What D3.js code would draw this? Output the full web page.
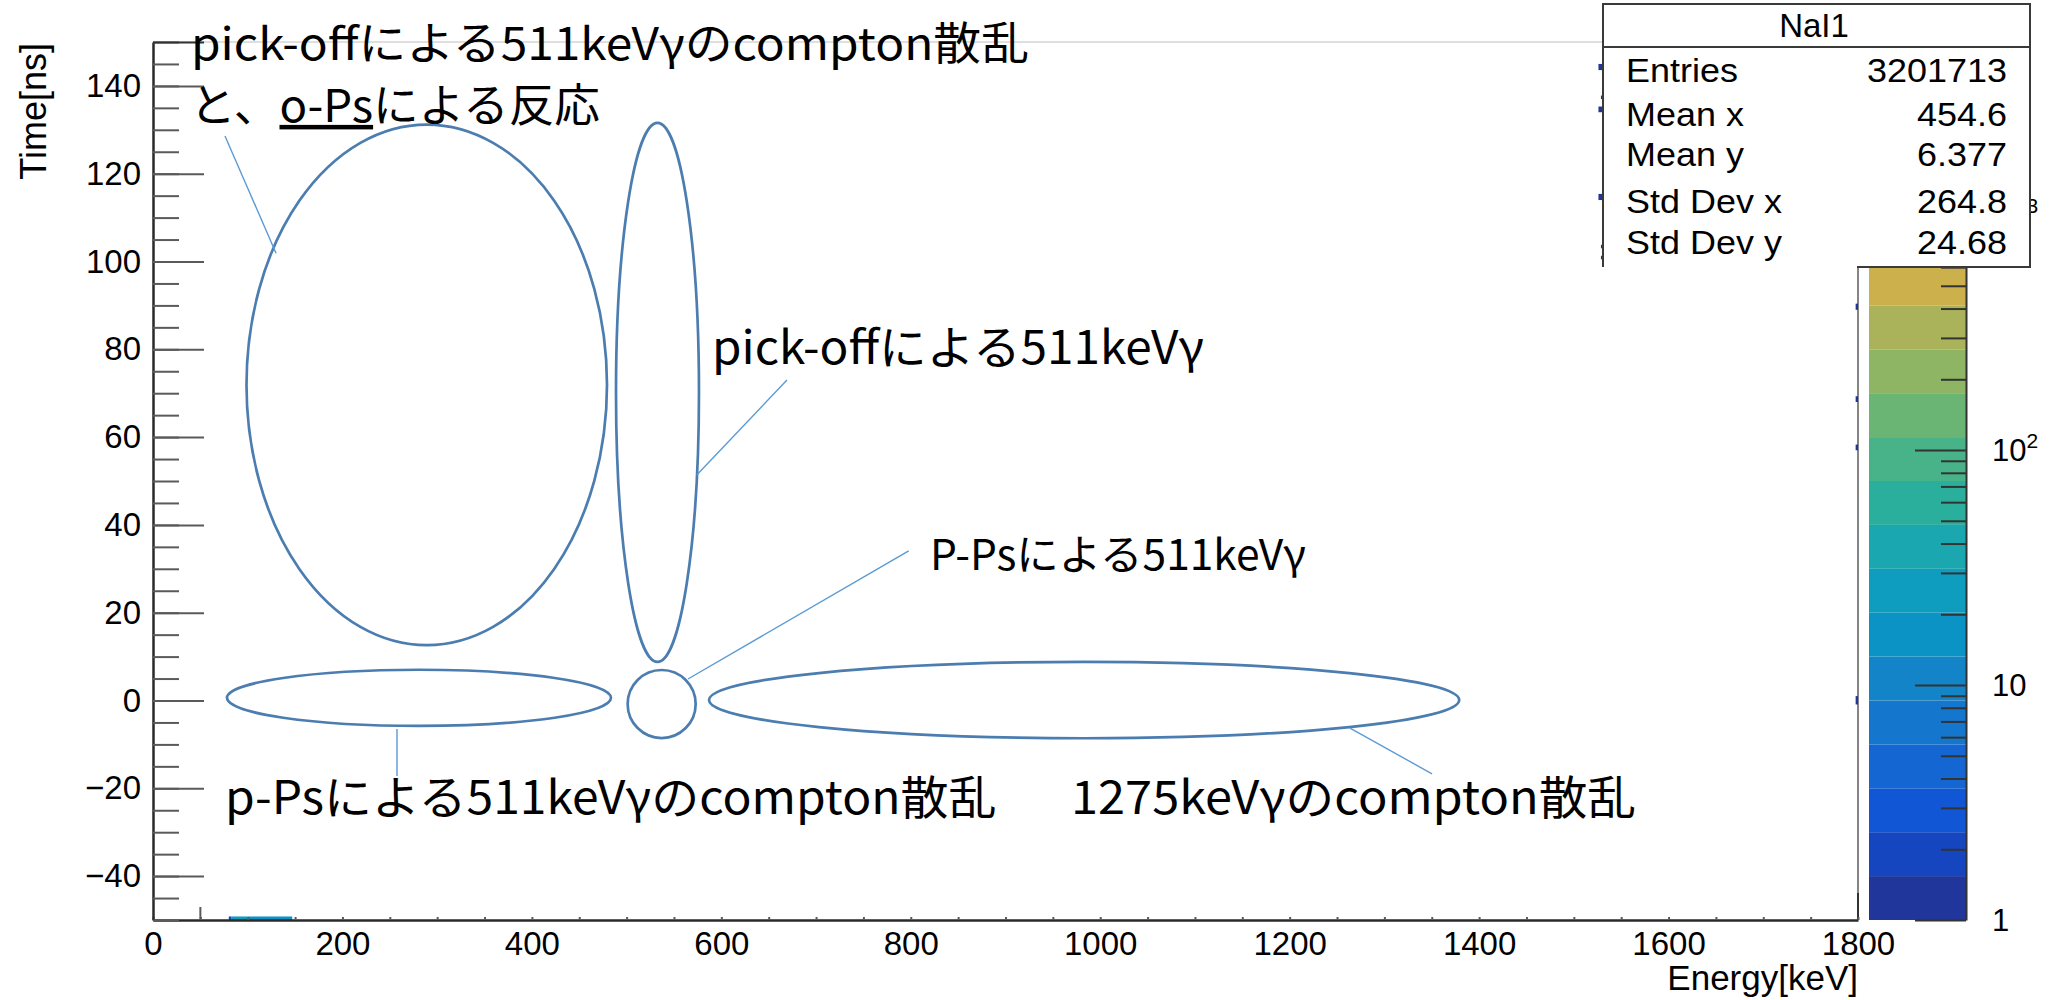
<!DOCTYPE html>
<html>
<head>
<meta charset="utf-8">
<script src="https://cdn.jsdelivr.net/npm/d3@7"></script>
<style>
  html, body { margin: 0; padding: 0; background: #fff; }
  svg { display: block; }
</style>
</head>
<body>
<svg id="chart" width="2056" height="1000"></svg>
<script>
// ---------------- axis ticks ----------------
const xMajorTicks = [0, 200, 400, 600, 800, 1000, 1200, 1400, 1600, 1800];
const xMinorTicks = d3.range(0, 1801, 50);
const xLongTicks = [50];
const yMajorTicks = [-40, -20, 0, 20, 40, 60, 80, 100, 120, 140];
const yMinorTicks = d3.range(-50, 151, 5);
const yEdgeTicks = [150];

// ---------------- colour axis (counts per bin, log) ----------------
const zMax = 5450;
const zMajorTicks = [1, 10, 100, 1000];
const zTickLabels = ["1", "10", "10^2", "10^3"];
const paletteColours = [
  "#21369a", "#1546bf", "#1157d5", "#1466d2", "#1477cd",
  "#1484c8", "#0b93c5", "#0e9dbf", "#1ba7b0", "#2aaf9d",
  "#48b288", "#6ab474", "#8db564", "#abb35a", "#cbb04c",
  "#dcb243", "#ebb93a", "#f5c631", "#f8d829", "#f9ec1f"
];

// ---------------- filled bins: [E lo, E hi, t lo, t hi, counts] ----------------
const bins = [
  [80, 83, -50, -49.2, 2],
  [83, 100, -50, -49.2, 25],
  [100, 147, -50, -49.2, 16],
  [1797.5, 1800, 89.0, 90.4, 1],
  [1797.5, 1800, 68.0, 69.3, 1],
  [1797.5, 1800, 57.0, 58.3, 1],
  [1797.5, 1800, -0.9, 1.0, 1],
  [1526, 1530, 143.6, 145.0, 1],
  [1526, 1530, 134.0, 135.3, 1],
  [1526, 1530, 114.0, 115.4, 1],
  [1528.6, 1530, 137.0, 137.8, 1],
  [1528.6, 1530, 103.0, 103.8, 1],
  [1528.6, 1530, 100.5, 101.3, 1]
];

// ---------------- marked regions (ellipses, keV / ns) ----------------
const regionCentreKeV  = [289.0, 532.6, 537.0, 280.8, 983.0];
const regionCentreNs   = [71.9, 70.2, -0.8, 0.6, 0.1];
const regionHalfKeV    = [190.3, 43.8, 35.9, 202.7, 396.0];
const regionHalfNs     = [59.3, 61.4, 7.75, 6.4, 8.7];

// leader lines: [E1, t1, E2, t2]
const leaders = [
  [76.0, 128.6, 129.9, 101.9],
  [669.3, 73.0, 574.3, 51.4],
  [797.8, 34.1, 564.8, 4.9],
  [257.6, -6.5, 257.6, -17.2],
  [1263.7, -6.3, 1350.3, -16.7]
];

// annotation labels: [text, E start, E end, t baseline]
const notes = [
  ["pick-offによる511keVγのcompton散乱", 40.1, 924.8, 145.8],
  ["と、|o-Ps|による反応", 39.1, 471.9, 131.8],
  ["pick-offによる511keVγ", 590.2, 1109.6, 76.6],
  ["P-Psによる511keVγ", 820.3, 1217.3, 29.7],
  ["p-Psによる511keVγのcompton散乱", 76.0, 890.5, -25.9],
  ["1275keVγのcompton散乱", 969.2, 1565.7, -25.9]
];

// statistics box
const statsTitle = "NaI1";
const statsNames = ["Entries", "Mean x", "Mean y", "Std Dev x", "Std Dev y"];
const statsValues = ["3201713", "454.6", "6.377", "264.8", "24.68"];

const xTitle = "Energy[keV]";
const yTitle = "Time[ns]";

// ================= drawing =================
const svg = d3.select("#chart");
const frame = { left: 153, right: 1858, top: 42, bottom: 920 };
const ROOTFONT = "'Liberation Sans', Arial, Helvetica, sans-serif";
const JPFONT = "'Noto Sans CJK JP', 'Noto Sans', sans-serif";

const x = d3.scaleLinear().domain([0, 1800]).range([frame.left, frame.right]);
const y = d3.scaleLinear().domain([-50, 150]).range([frame.bottom, frame.top]);
const z = d3.scaleLog().domain([1, zMax]).range([frame.bottom, frame.top]);
const colour = d3.scaleQuantize().domain([0, Math.log10(zMax)]).range(paletteColours);

svg.append("rect").attr("width", 2056).attr("height", 1000).attr("fill", "#fff");

// frame (top and right edges)
svg.append("line")
  .attr("x1", frame.left).attr("x2", frame.right)
  .attr("y1", frame.top).attr("y2", frame.top)
  .attr("stroke", "#d4d4d4").attr("stroke-width", 1.5);
svg.append("line")
  .attr("x1", frame.right).attr("x2", frame.right)
  .attr("y1", frame.top).attr("y2", frame.bottom)
  .attr("stroke", "#858585").attr("stroke-width", 2);
svg.append("line")
  .attr("x1", frame.right).attr("x2", frame.right)
  .attr("y1", frame.bottom - 27).attr("y2", frame.bottom)
  .attr("stroke", "#333").attr("stroke-width", 2);

// histogram bins
svg.append("g").selectAll("rect").data(bins).join("rect")
  .attr("x", d => x(d[0]))
  .attr("width", d => x(d[1]) - x(d[0]))
  .attr("y", d => y(d[3]))
  .attr("height", d => y(d[2]) - y(d[3]))
  .attr("fill", d => colour(Math.log10(d[4])));

// axes
function styleAxis(g, size) {
  g.attr("font-family", ROOTFONT).attr("font-size", size);
  g.selectAll(".tick line").attr("stroke", "#5a5a5a").attr("stroke-width", 2);
  g.selectAll(".tick text").attr("fill", "#000");
  g.select(".domain").attr("stroke", "#2a2a2a").attr("stroke-width", 2.5);
}

const gx = svg.append("g").attr("transform", `translate(0,${frame.bottom})`);
gx.append("g").call(d3.axisBottom(x).tickValues(xMinorTicks).tickSize(-3).tickSizeOuter(0).tickFormat(""))
  .call(g => styleAxis(g, 33));
gx.append("g").call(d3.axisBottom(x).tickValues(xMajorTicks).tickSize(0).tickPadding(12).tickSizeOuter(0).tickFormat(d3.format("d")))
  .call(g => { styleAxis(g, 33); g.select(".domain").remove(); });
gx.append("g").selectAll("line").data(xLongTicks).join("line")
  .attr("x1", d => x(d)).attr("x2", d => x(d))
  .attr("y1", 0).attr("y2", -13)
  .attr("stroke", "#5a5a5a").attr("stroke-width", 2);

const gy = svg.append("g").attr("transform", `translate(${frame.left},0)`);
gy.append("g").call(d3.axisLeft(y).tickValues(yMinorTicks).tickSize(-26).tickSizeOuter(0).tickFormat(""))
  .call(g => styleAxis(g, 33));
gy.append("g").call(d3.axisLeft(y).tickValues(yMajorTicks).tickSize(-51).tickPadding(12).tickSizeOuter(0))
  .call(g => { styleAxis(g, 33); g.select(".domain").remove(); });
gy.append("g").call(d3.axisLeft(y).tickValues(yEdgeTicks).tickSize(-51).tickSizeOuter(0).tickFormat(""))
  .call(g => { styleAxis(g, 33); g.select(".domain").remove(); g.selectAll(".tick line").attr("stroke", "#333"); });

// axis titles
svg.append("text")
  .attr("transform", `translate(46,${frame.top + 1}) rotate(-90)`)
  .attr("text-anchor", "end")
  .attr("font-family", ROOTFONT).attr("font-size", 36)
  .text(yTitle);
svg.append("text")
  .attr("x", frame.right).attr("y", 990)
  .attr("text-anchor", "end")
  .attr("font-family", ROOTFONT).attr("font-size", 35)
  .text(xTitle);

// marked regions
svg.append("g").selectAll("ellipse").data(regionCentreKeV).join("ellipse")
  .attr("cx", (d, i) => x(d))
  .attr("cy", (d, i) => y(regionCentreNs[i]))
  .attr("rx", (d, i) => x(d + regionHalfKeV[i]) - x(d))
  .attr("ry", (d, i) => y(regionCentreNs[i] - regionHalfNs[i]) - y(regionCentreNs[i]))
  .attr("fill", "none")
  .attr("stroke", "#4b7db0")
  .attr("stroke-width", 2.7);

svg.append("g").selectAll("line").data(leaders).join("line")
  .attr("x1", d => x(d[0])).attr("y1", d => y(d[1]))
  .attr("x2", d => x(d[2])).attr("y2", d => y(d[3]))
  .attr("stroke", "#5b9bd5").attr("stroke-width", 1.4);

// annotation labels
const noteSizes = [45, 45, 46, 42, 46, 46];
const noteG = svg.append("g").attr("font-family", JPFONT).attr("fill", "#000");
notes.forEach((n, i) => {
  const t = noteG.append("text")
    .attr("x", x(n[1])).attr("y", y(n[3]))
    .attr("font-size", noteSizes[i])
    .attr("textLength", x(n[2]) - x(n[1]))
    .attr("lengthAdjust", "spacingAndGlyphs");
  n[0].split("|").forEach((part, k) => {
    const s = t.append("tspan").text(part);
    if (k === 1) s.attr("text-decoration", "underline").style("text-decoration", "underline");
  });
});

// colour palette
const pal = svg.append("g");
const palLeft = 1869, palRight = 1966;
pal.selectAll("rect").data(paletteColours).join("rect")
  .attr("x", palLeft).attr("width", palRight - palLeft)
  .attr("y", c => z(Math.pow(10, colour.invertExtent(c)[1])))
  .attr("height", c => {
    const [lo, hi] = colour.invertExtent(c);
    return z(Math.pow(10, lo)) - z(Math.pow(10, hi));
  })
  .attr("fill", c => c);

const zMinor = z.ticks().filter(v => !zMajorTicks.includes(v));
pal.append("g").attr("transform", `translate(${palRight},0)`)
  .call(d3.axisRight(z).tickValues(zMinor).tickSize(-25).tickSizeOuter(0).tickFormat(""))
  .call(g => {
    g.selectAll(".tick line").attr("stroke", "#333").attr("stroke-width", 2);
    g.select(".domain").attr("stroke", "#333").attr("stroke-width", 2);
  });
pal.append("g").attr("transform", `translate(${palRight},0)`)
  .call(d3.axisRight(z).tickValues(zMajorTicks).tickSize(-51).tickSizeOuter(0).tickFormat(""))
  .call(g => {
    g.selectAll(".tick line").attr("stroke", "#333").attr("stroke-width", 2);
    g.select(".domain").remove();
  });
const zl = pal.append("g").attr("font-family", ROOTFONT).attr("fill", "#000");
zMajorTicks.forEach((v, i) => {
  const [base, exp] = zTickLabels[i].split("^");
  const t = zl.append("text").attr("x", 1992).attr("y", z(v) + 11).attr("font-size", 31);
  t.append("tspan").text(base);
  if (exp) t.append("tspan").attr("font-size", 21).attr("dy", -13).text(exp);
});

// statistics box
const sb = svg.append("g");
const box = { l: 1603, r: 2030, t: 4, b: 267, sep: 47 };
sb.append("rect")
  .attr("x", box.l).attr("y", box.t)
  .attr("width", box.r - box.l).attr("height", box.b - box.t)
  .attr("fill", "#fff");
sb.append("path")
  .attr("d", `M${box.l},${box.b}V${box.t}H${box.r}V${box.b}H1857`)
  .attr("fill", "none").attr("stroke", "#3a3a3a").attr("stroke-width", 2);
sb.append("line")
  .attr("x1", box.l).attr("x2", box.r).attr("y1", box.sep).attr("y2", box.sep)
  .attr("stroke", "#3a3a3a").attr("stroke-width", 2);
sb.append("text")
  .attr("x", 1814).attr("y", 37).attr("text-anchor", "middle")
  .attr("font-family", ROOTFONT).attr("font-size", 33)
  .text(statsTitle);
const rowY = [82, 126, 166, 213, 254];
statsNames.forEach((name, i) => {
  sb.append("text")
    .attr("transform", `translate(1626,${rowY[i]}) scale(1.09,1)`)
    .attr("font-family", ROOTFONT).attr("font-size", 33)
    .text(name);
  sb.append("text")
    .attr("transform", `translate(2007,${rowY[i]}) scale(1.09,1)`)
    .attr("text-anchor", "end")
    .attr("font-family", ROOTFONT).attr("font-size", 33)
    .text(statsValues[i]);
});
</script>
</body>
</html>
